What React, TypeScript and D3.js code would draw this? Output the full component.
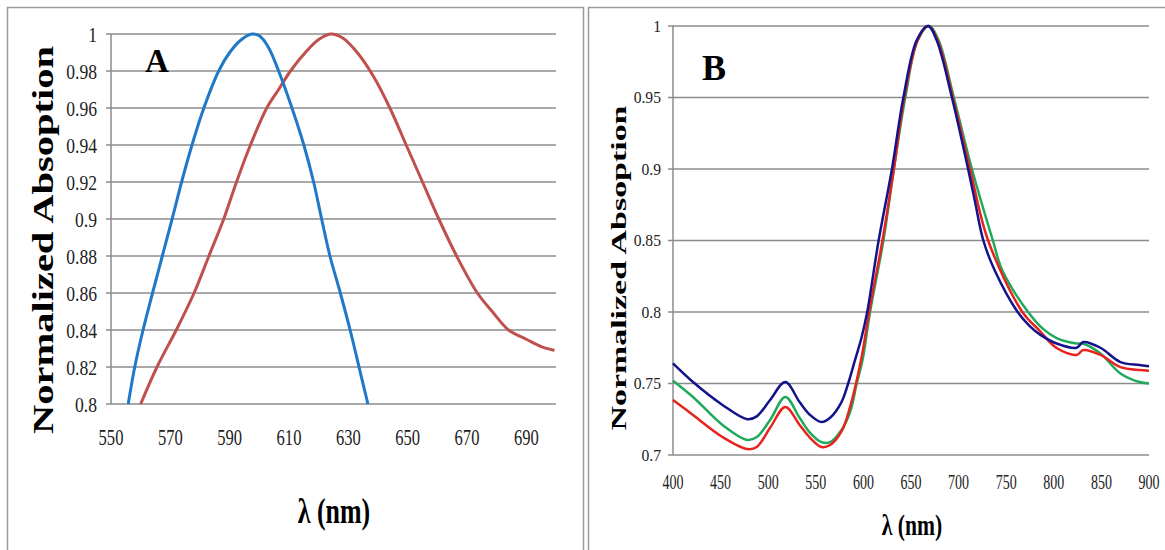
import React from "react";
import * as d3 from "d3";

// ---------- Panel A data ----------
const aTicksX = [550, 570, 590, 610, 630, 650, 670, 690];
const aTicksY = [0.8, 0.82, 0.84, 0.86, 0.88, 0.9, 0.92, 0.94, 0.96, 0.98, 1];
const aTickLabelsY = ["0.8", "0.82", "0.84", "0.86", "0.88", "0.9", "0.92", "0.94", "0.96", "0.98", "1"];

const aBlueX = [555.8, 558, 560.8, 564, 567.3, 570.6, 573.8, 577.3, 581.3, 586.3, 590, 594, 597.5, 600, 603, 606.5, 611, 615, 618.3, 621, 623.8, 627.3, 630.6, 633.6, 636.6];
const aBlueY = [0.8, 0.82, 0.84, 0.86, 0.88, 0.9, 0.92, 0.94, 0.96, 0.98, 0.99, 0.997, 1.0, 0.999, 0.993, 0.98, 0.96, 0.94, 0.92, 0.9, 0.88, 0.86, 0.84, 0.82, 0.8];

const aRedX = [560, 565.5, 572, 578, 583, 588, 592.3, 597, 602.5, 606.5, 610.5, 615.5, 620, 624, 628, 633, 638.5, 644, 649.5, 655, 660.5, 666.5, 673.5, 678.5, 684, 690, 695, 699.5];
const aRedY = [0.8, 0.82, 0.84, 0.86, 0.88, 0.9, 0.92, 0.94, 0.96, 0.97, 0.98, 0.99, 0.997, 1.0, 0.998, 0.99, 0.977, 0.96, 0.94, 0.92, 0.9, 0.88, 0.86, 0.85, 0.84, 0.835, 0.831, 0.829];

// ---------- Panel B data ----------
const bTicksX = [400, 450, 500, 550, 600, 650, 700, 750, 800, 850, 900];
const bTicksY = [0.7, 0.75, 0.8, 0.85, 0.9, 0.95, 1];
const bTickLabelsY = ["0.7", "0.75", "0.8", "0.85", "0.9", "0.95", "1"];

const bNavyX = [400, 421, 452, 478, 488, 502, 518, 533, 544, 556, 565, 577, 584, 591, 598, 604, 616, 630, 642, 656, 668, 677, 693, 710, 717, 726, 738, 762, 775, 786, 803, 824, 831, 849, 870, 890, 900];
const bNavyY = [0.764, 0.751, 0.735, 0.725, 0.727, 0.7385, 0.751, 0.737, 0.728, 0.723, 0.726, 0.737, 0.75, 0.766, 0.782, 0.8, 0.85, 0.9, 0.95, 0.99, 1.0, 0.99, 0.95, 0.9, 0.878, 0.85, 0.829, 0.8, 0.79, 0.784, 0.778, 0.775, 0.779, 0.775, 0.765, 0.763, 0.762];

const bRedX = [400, 421, 452, 478, 488, 502, 518, 533, 544, 556, 565, 577, 586, 598, 606, 620, 632, 643, 657, 668, 678, 694, 712, 731, 767, 785, 803, 824, 831, 849, 870, 890, 900];
const bRedY = [0.7385, 0.728, 0.7126, 0.7042, 0.7056, 0.719, 0.7336, 0.721, 0.712, 0.7056, 0.707, 0.7165, 0.7336, 0.768, 0.8, 0.85, 0.9, 0.95, 0.99, 1.0, 0.99, 0.95, 0.9, 0.85, 0.8, 0.787, 0.7748, 0.77, 0.7734, 0.77, 0.7615, 0.7594, 0.759];

const bGreenX = [400, 421, 452, 478, 488, 502, 518, 533, 544, 556, 565, 577, 586, 593, 599, 607, 621, 632, 644, 657, 669, 679, 695, 714, 736, 746, 773, 789, 803, 824, 831, 849, 870, 890, 900];
const bGreenY = [0.752, 0.7406, 0.721, 0.7105, 0.7126, 0.7245, 0.7406, 0.726, 0.7155, 0.709, 0.709, 0.7175, 0.73, 0.75, 0.766, 0.8, 0.85, 0.9, 0.95, 0.99, 1.0, 0.99, 0.95, 0.9, 0.85, 0.829, 0.8, 0.788, 0.7818, 0.778, 0.7778, 0.771, 0.757, 0.751, 0.75];

const SERIF = "Liberation Serif";
const GRID = "#8c8c8c";

type Pt = [number, number];
const zip = (xs: number[], ys: number[]): Pt[] => xs.map((x, i) => [x, ys[i]]);

export default function App() {
  // Panel A scales
  const ax = d3.scaleLinear().domain([550, 700]).range([111, 556]);
  const ay = d3.scaleLinear().domain([0.8, 1]).range([404, 34]);
  // Panel B scales
  const bx = d3.scaleLinear().domain([400, 900]).range([673, 1149]);
  const by = d3.scaleLinear().domain([0.7, 1]).range([455, 26]);

  const lineA = d3
    .line<Pt>()
    .x((d) => ax(d[0]))
    .y((d) => ay(d[1]))
    .curve(d3.curveCatmullRom.alpha(0.5));
  const lineB = d3
    .line<Pt>()
    .x((d) => bx(d[0]))
    .y((d) => by(d[1]))
    .curve(d3.curveCatmullRom.alpha(0.5));

  return (
    <svg
      width={1165}
      height={550}
      style={{ position: "absolute", left: 0, top: 0, background: "#fff" }}
    >
      <rect x={0} y={0} width={1165} height={550} fill="#fff" />
      {/* frames */}
      <rect x={7.5} y={7.5} width={576} height={560} fill="none" stroke="#9a9a9a" strokeWidth={1.5} />
      <rect x={588.5} y={7.5} width={600} height={560} fill="none" stroke="#9a9a9a" strokeWidth={1.5} />

      {/* ---------- Panel A ---------- */}
      <g>
        {aTicksY.map((t, i) => (
          <g key={"ag" + i}>
            <line x1={ax(550) - 5} x2={ax(700)} y1={ay(t)} y2={ay(t)} stroke={GRID} strokeWidth={1.5} />
            <text
              transform={`translate(97,${ay(t)}) scale(0.8,1)`}
              textAnchor="end"
              dy="0.35em"
              fontFamily={SERIF}
              fontSize={22}
              fill="#222"
            >
              {aTickLabelsY[i]}
            </text>
          </g>
        ))}
        <line x1={ax(550)} x2={ax(550)} y1={ay(1)} y2={ay(0.8)} stroke={GRID} strokeWidth={1.5} />
        {aTicksX.map((t, i) => (
          <text
            key={"ax" + i}
            transform={`translate(${ax(t)},437) scale(0.72,1)`}
            textAnchor="middle"
            dy="0.35em"
            fontFamily={SERIF}
            fontSize={23}
            fill="#222"
          >
            {t}
          </text>
        ))}
        <path d={lineA(zip(aRedX, aRedY)) || ""} fill="none" stroke="#c0504d" strokeWidth={3} />
        <path d={lineA(zip(aBlueX, aBlueY)) || ""} fill="none" stroke="#1f78c8" strokeWidth={3} />
        <text x={145} y={72} fontFamily={SERIF} fontWeight="bold" fontSize={33} fill="#000">
          A
        </text>
        <text
          transform="translate(334,510) scale(0.72,1)"
          textAnchor="middle"
          dy="0.35em"
          fontFamily={SERIF}
          fontWeight="bold"
          fontSize={36}
          fill="#000"
        >
          λ (nm)
        </text>
        <text
          transform="translate(53,240) rotate(-90)"
          textAnchor="middle"
          fontFamily={SERIF}
          fontWeight="bold"
          fontSize={29}
          textLength={388}
          lengthAdjust="spacingAndGlyphs"
          fill="#000"
        >
          Normalized Absoption
        </text>
      </g>

      {/* ---------- Panel B ---------- */}
      <g>
        {bTicksY.map((t, i) => (
          <g key={"bg" + i}>
            <line x1={bx(400) - 5} x2={bx(900)} y1={by(t)} y2={by(t)} stroke={GRID} strokeWidth={1.5} />
            <text
              transform={`translate(661,${by(t)}) scale(0.92,1)`}
              textAnchor="end"
              dy="0.35em"
              fontFamily={SERIF}
              fontSize={17}
              fill="#222"
            >
              {bTickLabelsY[i]}
            </text>
          </g>
        ))}
        <line x1={bx(400)} x2={bx(400)} y1={by(1)} y2={by(0.7)} stroke={GRID} strokeWidth={1.5} />
        {bTicksX.map((t, i) => (
          <text
            key={"bx" + i}
            transform={`translate(${bx(t)},482) scale(0.7,1)`}
            textAnchor="middle"
            dy="0.35em"
            fontFamily={SERIF}
            fontSize={20}
            fill="#222"
          >
            {t}
          </text>
        ))}
        <path d={lineB(zip(bGreenX, bGreenY)) || ""} fill="none" stroke="#1eaa5a" strokeWidth={2.5} />
        <path d={lineB(zip(bRedX, bRedY)) || ""} fill="none" stroke="#e8231e" strokeWidth={2.5} />
        <path d={lineB(zip(bNavyX, bNavyY)) || ""} fill="none" stroke="#13138c" strokeWidth={2.5} />
        <text x={702} y={80} fontFamily={SERIF} fontWeight="bold" fontSize={36} fill="#000">
          B
        </text>
        <text
          transform="translate(912,524) scale(0.72,1)"
          textAnchor="middle"
          dy="0.35em"
          fontFamily={SERIF}
          fontWeight="bold"
          fontSize={30}
          fill="#000"
        >
          λ (nm)
        </text>
        <text
          transform="translate(626,268) rotate(-90)"
          textAnchor="middle"
          fontFamily={SERIF}
          fontWeight="bold"
          fontSize={22}
          textLength={325}
          lengthAdjust="spacingAndGlyphs"
          fill="#000"
        >
          Normalized Absoption
        </text>
      </g>
    </svg>
  );
}
